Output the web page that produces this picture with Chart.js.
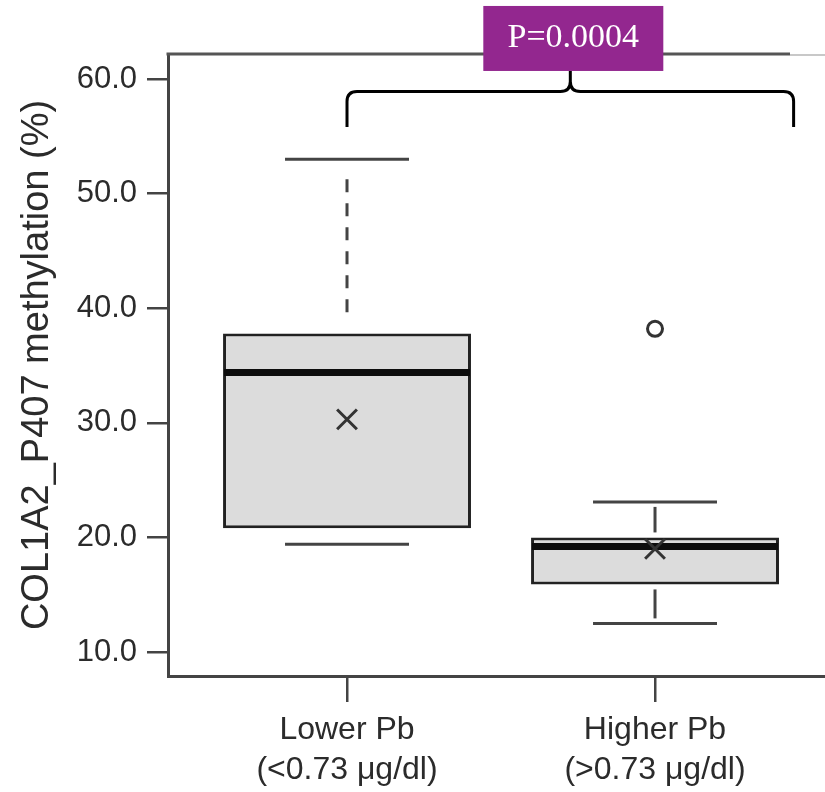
<!DOCTYPE html>
<html>
<head>
<meta charset="utf-8">
<title>COL1A2_P407 methylation by Pb group</title>
<script src="https://cdn.jsdelivr.net/npm/chart.js@4.4.1/dist/chart.umd.min.js"></script>
<style>
  html, body { margin: 0; padding: 0; background: #fff; overflow: hidden; }
  #wrap { width: 825px; height: 792px; }
  canvas { display: block; }
</style>
</head>
<body>
<div id="wrap"><canvas id="boxChart" width="825" height="792"></canvas></div>
<script>
// Box plot of COL1A2_P407 methylation split by blood lead group.
// Chart.js has no boxplot type: the IQR boxes are floating bars, whiskers and
// medians are stroked by a small plugin on top of the bar elements.

const groupX = [1, 2];
const groupLabels = [['Lower Pb', '(<0.73 μg/dl)'], ['Higher Pb', '(>0.73 μg/dl)']];

const q1Values = [20.8, 15.9];
const q3Values = [37.8, 20.0];
const medianValues = [34.4, 19.2];
const whiskerLow = [19.4, 12.5];
const whiskerHigh = [53.0, 23.1];
const meanValues = [30.3, 19.0];
const outlierPoints = [{ x: 2, y: 38.2 }];

const yTicks = [10, 20, 30, 40, 50, 60];
const pValueText = 'P=0.0004';

// annotation bracket (in axis units)
const brace = { from: 1, to: 2.45, line: 58.9, ends: 55.8, tip: 60.7 };

// per-box whisker look (the lower group draws a dashed whisker)
const whiskerStyle = [
  { dash: [13, 11], gap: 20 },
  { dash: [], gap: 5 }
];

const ink = '#2b2b2b';
const axisInk = '#444';

Chart.defaults.font.family = '"Liberation Sans", Arial, sans-serif';
Chart.defaults.color = ink;

const boxParts = {
  id: 'boxParts',
  afterDatasetDraw(chart, args) {
    if (args.index !== 0) return;
    const { ctx } = chart;
    const y = chart.scales.y;
    const seg = (x1, y1, x2, y2) => {
      ctx.beginPath(); ctx.moveTo(x1, y1); ctx.lineTo(x2, y2); ctx.stroke();
    };
    args.meta.data.forEach((bar, i) => {
      const { x, width } = bar.getProps(['x', 'width'], true);
      const st = whiskerStyle[i];
      const pQ1 = y.getPixelForValue(q1Values[i]);
      const pQ3 = y.getPixelForValue(q3Values[i]);
      const pLo = y.getPixelForValue(whiskerLow[i]);
      const pHi = y.getPixelForValue(whiskerHigh[i]);
      const pMed = y.getPixelForValue(medianValues[i]);
      const capHalf = width * 0.25;

      ctx.save();
      ctx.strokeStyle = '#444';
      ctx.lineWidth = 3;
      ctx.setLineDash(st.dash);
      if (pQ3 - pHi > 2 * st.gap) seg(x, pHi + st.gap, x, pQ3 - st.gap);
      if (pLo - pQ1 > 2 * st.gap) seg(x, pQ1 + st.gap, x, pLo - st.gap);
      ctx.setLineDash([]);
      seg(x - capHalf, pHi, x + capHalf, pHi);
      seg(x - capHalf, pLo, x + capHalf, pLo);

      ctx.strokeStyle = '#0d0d0d';
      ctx.lineWidth = 7;
      seg(x - width / 2 + 1, pMed, x + width / 2 - 1, pMed);
      ctx.restore();
    });
  }
};

const frameAndNote = {
  id: 'frameAndNote',
  afterDraw(chart) {
    const { ctx, chartArea, scales: { x, y } } = chart;
    ctx.save();
    // top frame line, fading out near the right edge
    ctx.lineWidth = 3;
    ctx.strokeStyle = '#555';
    ctx.beginPath();
    ctx.moveTo(chartArea.left - 1.5, chartArea.top);
    ctx.lineTo(chartArea.right - 35, chartArea.top);
    ctx.stroke();
    ctx.lineWidth = 2;
    ctx.strokeStyle = '#c8c8c8';
    ctx.beginPath();
    ctx.moveTo(chartArea.right - 35, chartArea.top + 1);
    ctx.lineTo(chartArea.right, chartArea.top + 1);
    ctx.stroke();

    // curly bracket
    const L = x.getPixelForValue(brace.from);
    const R = x.getPixelForValue(brace.to);
    const M = (L + R) / 2;
    const yLine = y.getPixelForValue(brace.line);
    const yEnd = y.getPixelForValue(brace.ends);
    const yTip = y.getPixelForValue(brace.tip);
    const r = 10;
    ctx.strokeStyle = '#000';
    ctx.lineWidth = 3;
    ctx.lineJoin = 'round';
    ctx.beginPath();
    ctx.moveTo(L, yEnd);
    ctx.lineTo(L, yLine + r);
    ctx.quadraticCurveTo(L, yLine, L + r, yLine);
    ctx.lineTo(M - r, yLine);
    ctx.quadraticCurveTo(M, yLine, M, yLine - r);
    ctx.lineTo(M, yTip);
    ctx.moveTo(M, yLine - r);
    ctx.quadraticCurveTo(M, yLine, M + r, yLine);
    ctx.lineTo(R - r, yLine);
    ctx.quadraticCurveTo(R, yLine, R, yLine + r);
    ctx.lineTo(R, yEnd);
    ctx.stroke();

    // p-value label box
    const bw = 180, bh = 65;
    const bx = M + 3 - bw / 2;
    ctx.fillStyle = '#93278f';
    ctx.fillRect(bx, yTip - bh, bw, bh);
    ctx.fillStyle = '#fff';
    ctx.font = '34px "Liberation Serif", "Times New Roman", serif';
    ctx.textAlign = 'center';
    ctx.textBaseline = 'middle';
    ctx.fillText(pValueText, bx + bw / 2, yTip - bh / 2);
    ctx.restore();
  }
};

new Chart(document.getElementById('boxChart'), {
  type: 'bar',
  data: {
    datasets: [
      {
        type: 'bar',
        data: groupX.map((x, i) => ({ x, y: [q1Values[i], q3Values[i]] })),
        backgroundColor: '#dcdcdc',
        borderColor: '#222',
        borderWidth: 3,
        borderSkipped: false,
        categoryPercentage: 1,
        barPercentage: 0.805,
        order: 3
      },
      {
        type: 'scatter',
        data: groupX.map((x, i) => ({ x, y: meanValues[i] })),
        pointStyle: 'crossRot',
        pointRadius: 14,
        pointBorderWidth: 3,
        pointBorderColor: '#333',
        order: 1
      },
      {
        type: 'scatter',
        data: outlierPoints,
        pointStyle: 'circle',
        pointRadius: 7.5,
        pointBorderWidth: 3,
        pointBorderColor: '#333',
        pointBackgroundColor: '#fff',
        order: 1
      }
    ]
  },
  options: {
    responsive: false,
    devicePixelRatio: 1,
    animation: false,
    events: [],
    layout: { autoPadding: false, padding: { top: 54, left: 0, right: 0, bottom: 0 } },
    plugins: { legend: { display: false }, tooltip: { enabled: false } },
    scales: {
      x: {
        type: 'linear',
        offset: false,
        min: 0.4188,
        max: 2.5519,
        afterBuildTicks: s => { s.ticks = groupX.map(v => ({ value: v })); },
        afterFit: s => { s.height = 116; s.paddingRight = 0; s.paddingLeft = 0; },
        ticks: {
          callback: (v, i) => groupLabels[i],
          font: { size: 32, lineHeight: 1.25 },
          color: ink,
          padding: 8,
          maxRotation: 0,
          autoSkip: false
        },
        grid: { offset: false, drawOnChartArea: false, drawTicks: true, tickLength: 26, color: axisInk, lineWidth: 2.5 },
        border: { display: true, color: axisInk, width: 3 }
      },
      y: {
        type: 'linear',
        min: 7.91,
        max: 62.18,
        afterBuildTicks: s => { s.ticks = yTicks.map(v => ({ value: v })); },
        afterFit: s => { s.width = 168; },
        ticks: {
          callback: v => Number(v).toFixed(1),
          font: { size: 31 },
          color: ink,
          padding: 10
        },
        grid: { drawOnChartArea: false, drawTicks: true, tickLength: 21, color: axisInk, lineWidth: 2.5 },
        border: { display: true, color: axisInk, width: 3 },
        title: {
          display: true,
          text: 'COL1A2_P407 methylation (%)',
          font: { size: 38 },
          color: ink,
          padding: { top: 15, bottom: 0 }
        }
      }
    }
  },
  plugins: [boxParts, frameAndNote]
});
</script>
</body>
</html>
